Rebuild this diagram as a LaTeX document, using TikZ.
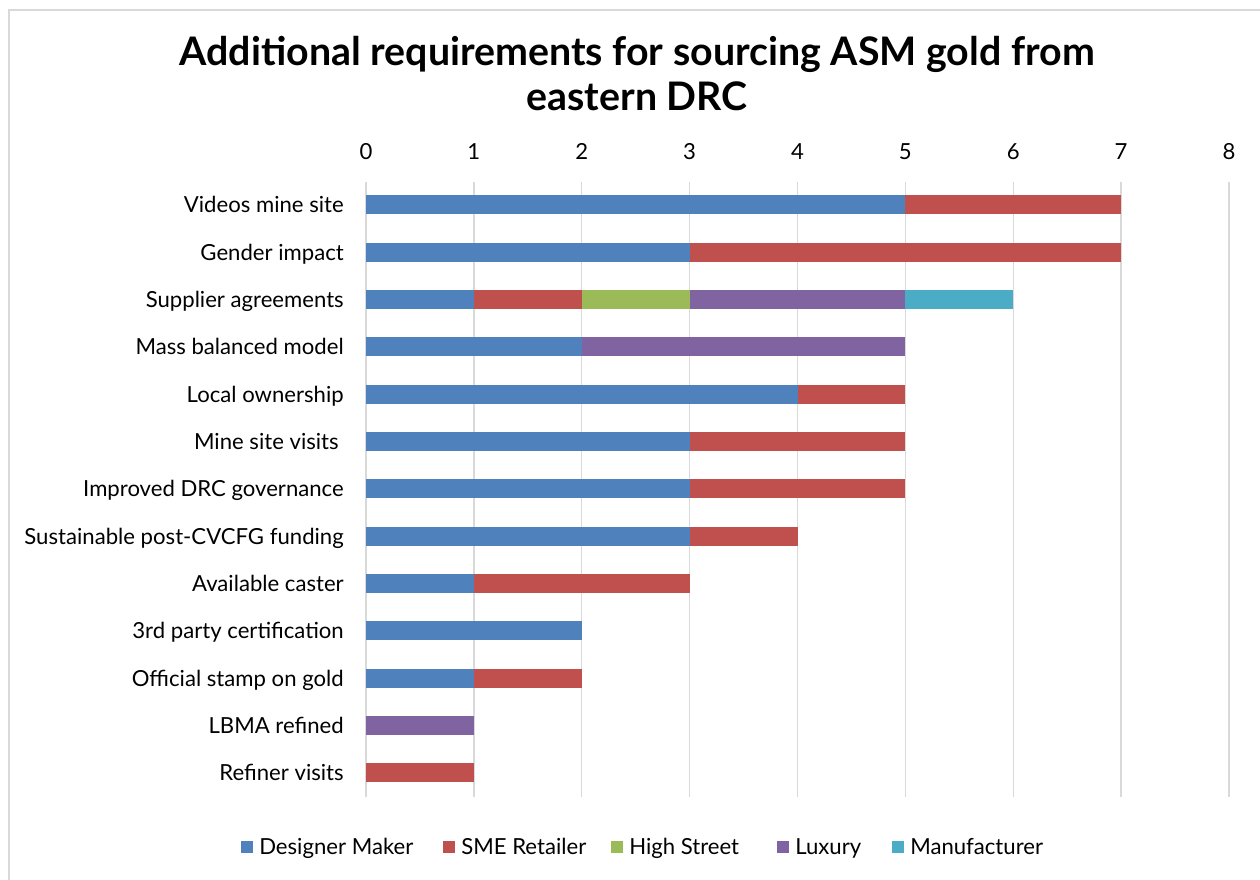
\documentclass[tikz,border=0pt]{standalone}
\usepackage{fontspec}
\setmainfont{Lato}
\definecolor{cblue}{HTML}{4F81BD}
\definecolor{cred}{HTML}{C0504D}
\definecolor{cgreen}{HTML}{9BBB59}
\definecolor{cpurple}{HTML}{8064A2}
\definecolor{cteal}{HTML}{4BACC6}
\definecolor{grid}{HTML}{D9D9D9}
\tikzset{
  lbl/.style={anchor=base east, inner sep=0pt, font=\fontsize{16.6}{18}\selectfont},
  tick/.style={anchor=base, inner sep=0pt, font=\fontsize{16.6}{18}\selectfont},
  ttl/.style={anchor=base, inner sep=0pt, font=\fontsize{29.5}{34}\selectfont\bfseries},
  leg/.style={anchor=base west, inner sep=0pt, font=\fontsize{16.6}{18}\selectfont},
  gridline/.style={draw=grid, line width=1.1pt},
}
\newcommand{\ux}{107.875}
\newcommand{\xo}{366}
\newcommand{\rowgap}{47.33}
% seg: row, start, length, color
\newcommand{\seg}[4]{%
  \fill[#4] ({\xo+#2*\ux},{205+#1*\rowgap-9.5}) rectangle ({\xo+(#2+#3)*\ux},{205+#1*\rowgap+9.5});}
\begin{document}
\begin{tikzpicture}[x=0.75pt,y=-0.75pt]
\useasboundingbox (0,0) rectangle (1260,880);
\fill[white] (0,0) rectangle (1260,880);
\draw[grid, line width=1.2pt] (9,882) -- (9,10) -- (1262,10);
% title
\node[ttl] (title1) at (637,66) {Additional requirements for sourcing ASM gold from};
\node[ttl] (title2) at (637,111) {eastern DRC};
% grid and ticks
\foreach \i in {0,...,8}{
  \draw[gridline] ({\xo+\i*\ux},182) -- ({\xo+\i*\ux},797);
  \node[tick] (t\i) at ({\xo+\i*\ux},160) {\i};
}
% bars
\seg{0}{0}{5}{cblue}\seg{0}{5}{2}{cred}
\seg{1}{0}{3}{cblue}\seg{1}{3}{4}{cred}
\seg{2}{0}{1}{cblue}\seg{2}{1}{1}{cred}\seg{2}{2}{1}{cgreen}\seg{2}{3}{2}{cpurple}\seg{2}{5}{1}{cteal}
\seg{3}{0}{2}{cblue}\seg{3}{2}{3}{cpurple}
\seg{4}{0}{4}{cblue}\seg{4}{4}{1}{cred}
\seg{5}{0}{3}{cblue}\seg{5}{3}{2}{cred}
\seg{6}{0}{3}{cblue}\seg{6}{3}{2}{cred}
\seg{7}{0}{3}{cblue}\seg{7}{3}{1}{cred}
\seg{8}{0}{1}{cblue}\seg{8}{1}{2}{cred}
\seg{9}{0}{2}{cblue}
\seg{10}{0}{1}{cblue}\seg{10}{1}{1}{cred}
\seg{11}{0}{1}{cpurple}
\seg{12}{0}{1}{cred}
% category labels
\foreach \n/\t/\dx [count=\k from 0] in {
  c0/Videos mine site/0, c1/Gender impact/0, c2/Supplier agreements/0,
  c3/Mass balanced model/0, c4/Local ownership/0, c5/Mine site visits/5,
  c6/Improved DRC governance/0, c7/Sustainable post-CVCFG funding/0,
  c8/Available caster/0, c9/3rd party certification/0,
  c10/Official stamp on gold/0, c11/LBMA refined/0, c12/Refiner visits/0}{
  \node[lbl] (\n) at ({344-\dx},{213+\k*\rowgap}) {\t};
}
% legend
\foreach \n/\c/\sx/\t in {l1/cblue/241/Designer Maker, l2/cred/443/SME Retailer,
  l3/cgreen/611/High Street, l4/cpurple/777/Luxury, l5/cteal/892/Manufacturer}{
  \fill[\c] (\sx,841) rectangle ({\sx+12},853);
  \node[leg] (\n) at ({\sx+18},854) {\t};
}
\end{tikzpicture}
\end{document}
